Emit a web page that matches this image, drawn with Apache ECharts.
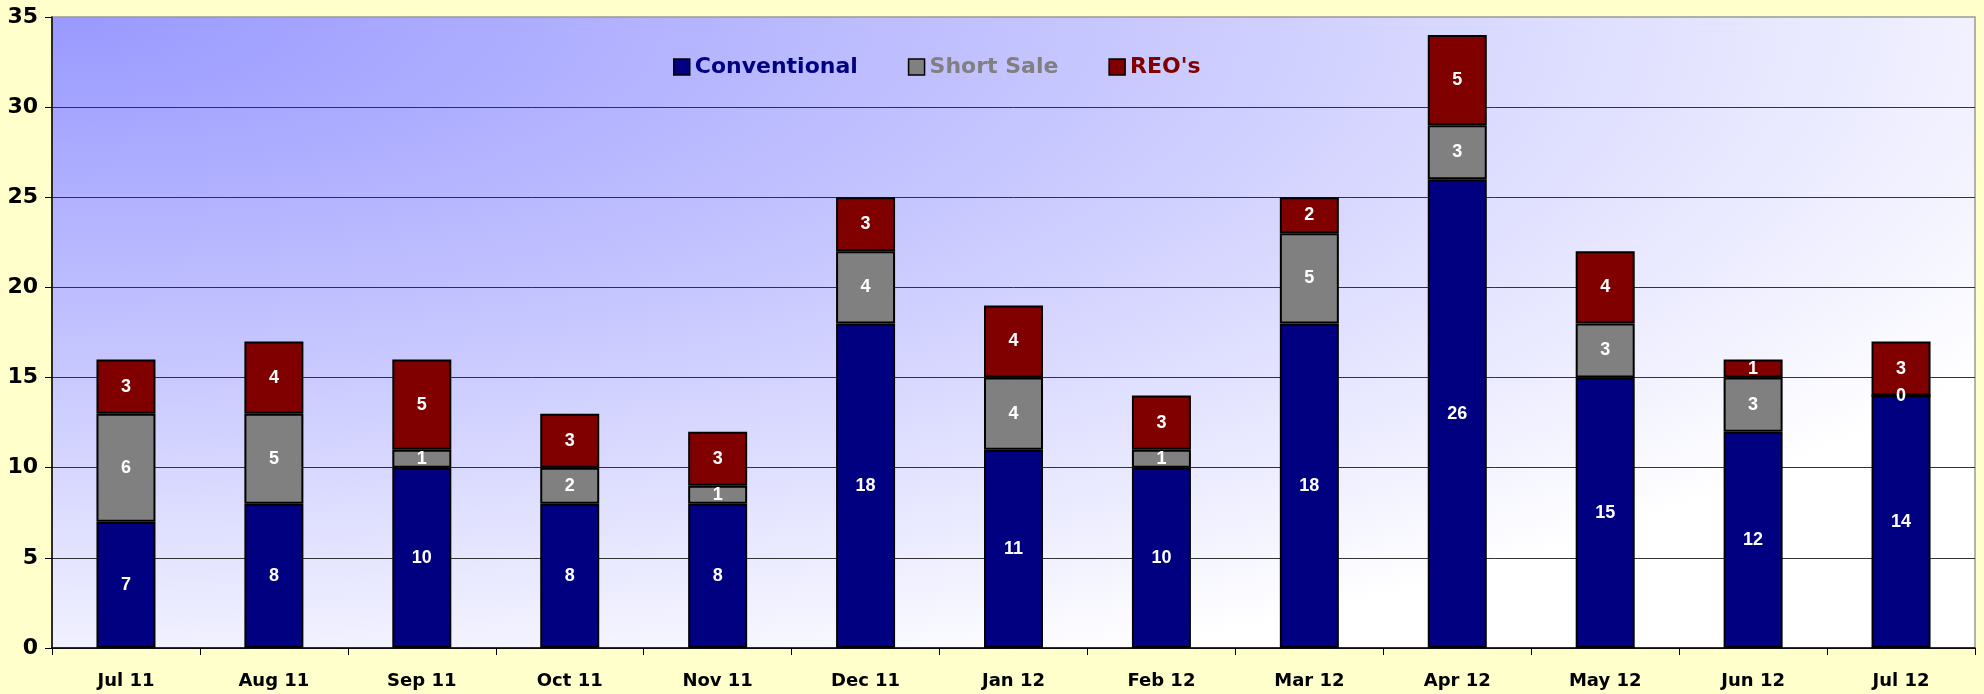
<!DOCTYPE html>
<html>
<head>
<meta charset="utf-8">
<script src="https://cdn.jsdelivr.net/npm/echarts@6/dist/echarts.min.js"></script>
<style>
  html, body { margin: 0; padding: 0; background: #ffffcc; }
  #chart { width: 1984px; height: 694px; }
</style>
</head>
<body>
<div id="chart"></div>
<script>
// categories and values
const months = ['Jul 11', 'Aug 11', 'Sep 11', 'Oct 11', 'Nov 11', 'Dec 11', 'Jan 12',
    'Feb 12', 'Mar 12', 'Apr 12', 'May 12', 'Jun 12', 'Jul 12'];
const conventional = [7, 8, 10, 8, 8, 18, 11, 10, 18, 26, 15, 12, 14];
const shortSale = [6, 5, 1, 2, 1, 4, 4, 1, 5, 3, 3, 3, 0];
const reos = [3, 4, 5, 3, 3, 3, 4, 3, 2, 5, 4, 1, 3];

// plot area layout
const G = { left: 52, right: 9, top: 17, bottom: 46 };
const W = 1984 - G.left - G.right;
const H = 694 - G.top - G.bottom;

const font = 'DejaVu Sans';

function barSeries(name, data, color) {
    return {
        name: name,
        type: 'bar',
        stack: 'total',
        barWidth: 59,
        data: data,
        itemStyle: { color: color, borderColor: '#000', borderWidth: 2 },
        label: {
            show: true,
            position: 'inside',
            color: '#fff',
            fontFamily: 'Liberation Sans',
            fontWeight: 'bold',
            fontSize: 18
        }
    };
}

const options = {
    backgroundColor: '#ffffcc',
    animation: false,
    graphic: [{
        type: 'rect',
        z: -10,
        x: G.left,
        y: G.top,
        scaleX: W / H,
        shape: { x: 0, y: 0, width: H, height: H },
        style: {
            fill: new echarts.graphic.RadialGradient(0, 0, 1.15, [
                { offset: 0, color: '#9999ff' },
                { offset: 0.45, color: '#c4c4ff' },
                { offset: 1, color: '#ffffff' }
            ])
        }
    }],
    legend: {
        left: 668,
        top: 51,
        itemWidth: 16,
        itemHeight: 16,
        itemGap: 50,
        icon: 'rect',
        itemStyle: { borderColor: '#000', borderWidth: 1.5 },
        textStyle: { fontFamily: font, fontWeight: 'bold', fontSize: 22 },
        data: [
            { name: 'Conventional', textStyle: { color: '#000080' } },
            { name: 'Short Sale', textStyle: { color: '#808080' } },
            { name: "REO's", textStyle: { color: '#800000' } }
        ]
    },
    grid: {
        left: G.left, right: G.right, top: G.top, bottom: G.bottom,
        show: true,
        backgroundColor: 'transparent',
        borderColor: '#999',
        borderWidth: 1.5
    },
    xAxis: {
        type: 'category',
        data: months,
        axisLine: { lineStyle: { color: '#000', width: 1.5 } },
        axisTick: { show: true, length: 7, lineStyle: { color: '#000' } },
        axisLabel: { color: '#000', fontFamily: font, fontWeight: 'bold', fontSize: 18, margin: 24 }
    },
    yAxis: {
        type: 'value',
        min: 0,
        max: 35,
        interval: 5,
        axisLine: { show: true, lineStyle: { color: '#000', width: 1.5 } },
        axisTick: { show: true, length: 7, lineStyle: { color: '#000' } },
        axisLabel: { color: '#000', fontFamily: font, fontWeight: 'bold', fontSize: 22, margin: 14 },
        splitLine: { showMaxLine: false, lineStyle: { color: '#333', width: 1 } }
    },
    series: [
        barSeries('Conventional', conventional, '#000080'),
        barSeries('Short Sale', shortSale, '#808080'),
        barSeries("REO's", reos, '#800000')
    ]
};

const E = echarts.init(document.getElementById('chart'));
window.onresize = function () {
    E.resize();
};
E.setOption(options);
</script>
</body>
</html>
